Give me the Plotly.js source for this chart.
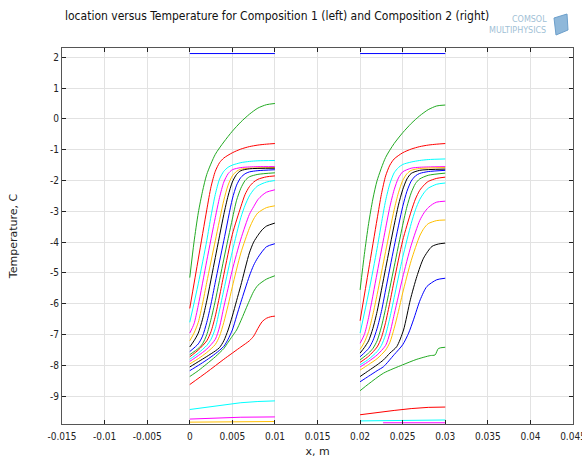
<!DOCTYPE html>
<html>
<head>
<meta charset="utf-8">
<script src="https://cdn.plot.ly/plotly-3.0.1.min.js"></script>
<style>html,body{margin:0;padding:0;background:#fff;}#chart{width:582px;height:458px;}</style>
</head>
<body>
<div id="chart"></div>
<script>
// Colour cycle (COMSOL default order)
const seriesColors = ['#0000ff', '#22aa22', '#ff0000', '#00ffff', '#ff00ff', '#ffbf00', '#000000'];

// Composition 1 (left), x in m, temperature in C
const leftX = [
  [0, 0.01],
  [0,0.0005,0.001,0.0015,0.002,0.003,0.004,0.005,0.006,0.007,0.008,0.009,0.01],
  [0,0.001,0.002,0.0025,0.003,0.0035,0.004,0.005,0.006,0.007,0.008,0.009,0.01],
  [0,0.001,0.002,0.0025,0.003,0.0035,0.004,0.0045,0.005,0.006,0.007,0.008,0.01],
  [0,0.0005,0.001,0.002,0.003,0.0035,0.004,0.0045,0.005,0.006,0.007,0.008,0.01],
  [0,0.0005,0.001,0.0015,0.002,0.003,0.004,0.0045,0.005,0.0055,0.006,0.007,0.01],
  [0,0.0005,0.001,0.0015,0.002,0.003,0.004,0.0045,0.005,0.0055,0.006,0.007,0.01],
  [0,0.001,0.0015,0.002,0.0025,0.003,0.004,0.005,0.0055,0.006,0.0065,0.007,0.008,0.01],
  [0,0.001,0.0015,0.002,0.0025,0.003,0.004,0.005,0.0055,0.006,0.0065,0.007,0.008,0.01],
  [0,0.001,0.002,0.0025,0.003,0.0035,0.004,0.005,0.006,0.0065,0.007,0.0075,0.008,0.009,0.01],
  [0,0.001,0.002,0.0025,0.003,0.0035,0.004,0.005,0.006,0.0065,0.007,0.0075,0.008,0.009,0.01],
  [0,0.001,0.002,0.003,0.0035,0.004,0.0045,0.005,0.006,0.007,0.0075,0.008,0.0085,0.009,0.01],
  [0,0.001,0.002,0.003,0.0035,0.004,0.0045,0.005,0.006,0.007,0.0075,0.008,0.009,0.01],
  [0,0.001,0.002,0.003,0.0035,0.004,0.0045,0.005,0.0055,0.006,0.007,0.0075,0.008,0.0085,0.009,0.01],
  [0,0.001,0.002,0.003,0.004,0.0045,0.005,0.0055,0.006,0.007,0.0075,0.008,0.009,0.01],
  [0,0.001,0.002,0.003,0.004,0.0045,0.005,0.0055,0.006,0.007,0.0075,0.008,0.009,0.01],
  [0,0.002,0.004,0.006,0.007,0.0075,0.008,0.0085,0.009,0.0095,0.01],
  [0,0.002,0.004,0.006,0.008,0.01],
  [0,0.003,0.006,0.01],
  [0,0.005,0.0051,0.01]
];
const leftT = [
  [2.12, 2.12],
  [-5.15,-4.0,-3.05,-2.35,-1.8,-1.15,-0.75,-0.4,-0.1,0.15,0.35,0.46,0.5],
  [-6.15,-4.55,-2.95,-2.2,-1.7,-1.42,-1.27,-1.1,-0.98,-0.9,-0.85,-0.82,-0.8],
  [-6.6,-5.35,-3.95,-3.15,-2.45,-1.95,-1.7,-1.57,-1.5,-1.42,-1.38,-1.36,-1.35],
  [-6.95,-6.65,-6.05,-4.6,-3.2,-2.55,-2.05,-1.78,-1.65,-1.58,-1.56,-1.55,-1.55],
  [-7.2,-6.95,-6.6,-6.0,-5.3,-3.95,-2.64,-2.15,-1.85,-1.7,-1.63,-1.6,-1.58],
  [-7.4,-7.2,-6.95,-6.5,-5.9,-4.5,-3.1,-2.5,-2.05,-1.8,-1.68,-1.62,-1.6],
  [-7.55,-7.3,-7.05,-6.6,-6.0,-5.3,-3.95,-2.6,-2.15,-1.9,-1.78,-1.72,-1.68,-1.65],
  [-7.65,-7.45,-7.3,-7.0,-6.5,-5.9,-4.55,-3.25,-2.64,-2.25,-2.0,-1.88,-1.8,-1.75],
  [-7.72,-7.5,-7.2,-6.9,-6.4,-5.75,-5.05,-3.75,-2.85,-2.45,-2.2,-2.05,-1.96,-1.88,-1.85],
  [-7.8,-7.6,-7.35,-7.15,-6.8,-6.2,-5.55,-4.3,-3.2,-2.8,-2.5,-2.3,-2.17,-2.05,-2.0],
  [-7.87,-7.68,-7.47,-7.15,-6.75,-6.1,-5.5,-4.9,-3.9,-3.1,-2.85,-2.62,-2.48,-2.38,-2.3],
  [-7.95,-7.78,-7.58,-7.32,-7.05,-6.6,-6.05,-5.45,-4.35,-3.55,-3.25,-3.05,-2.88,-2.82],
  [-8.05,-7.88,-7.71,-7.53,-7.42,-7.2,-6.85,-6.4,-5.9,-5.4,-4.35,-4.0,-3.78,-3.6,-3.48,-3.38],
  [-8.17,-8.0,-7.82,-7.62,-7.38,-7.15,-6.85,-6.4,-5.95,-5.1,-4.75,-4.5,-4.15,-4.05],
  [-8.36,-8.17,-7.95,-7.72,-7.45,-7.25,-7.05,-6.85,-6.55,-5.9,-5.6,-5.4,-5.2,-5.09],
  [-8.62,-8.22,-7.8,-7.4,-7.2,-7.05,-6.8,-6.58,-6.47,-6.42,-6.4],
  [-9.43,-9.35,-9.27,-9.21,-9.17,-9.15],
  [-9.74,-9.71,-9.68,-9.67],
  [-9.84,-9.84,-9.82,-9.82]
];

// Composition 2 (right)
const rightX = [
  [0.02, 0.03],
  [0.02,0.0205,0.021,0.0215,0.022,0.023,0.024,0.025,0.026,0.027,0.028,0.029,0.03],
  [0.02,0.021,0.022,0.0225,0.023,0.0235,0.024,0.025,0.026,0.027,0.028,0.029,0.03],
  [0.02,0.021,0.022,0.0225,0.023,0.0235,0.024,0.0245,0.025,0.026,0.027,0.028,0.03],
  [0.02,0.0205,0.021,0.022,0.023,0.0235,0.024,0.0245,0.025,0.026,0.027,0.028,0.03],
  [0.02,0.0205,0.021,0.0215,0.022,0.023,0.024,0.0245,0.025,0.0255,0.026,0.027,0.03],
  [0.02,0.0205,0.021,0.0215,0.022,0.023,0.024,0.0245,0.025,0.0255,0.026,0.027,0.03],
  [0.02,0.021,0.0215,0.022,0.0225,0.023,0.024,0.025,0.0255,0.026,0.0265,0.027,0.028,0.03],
  [0.02,0.021,0.0215,0.022,0.0225,0.023,0.024,0.025,0.0255,0.026,0.0265,0.027,0.028,0.03],
  [0.02,0.021,0.022,0.0225,0.023,0.0235,0.024,0.025,0.026,0.0265,0.027,0.0275,0.028,0.029,0.03],
  [0.02,0.021,0.022,0.0225,0.023,0.0235,0.024,0.025,0.026,0.0265,0.027,0.0275,0.028,0.029,0.03],
  [0.02,0.021,0.022,0.023,0.0235,0.024,0.0245,0.025,0.026,0.027,0.0275,0.028,0.0285,0.029,0.03],
  [0.02,0.021,0.022,0.023,0.0235,0.024,0.0245,0.025,0.026,0.027,0.0275,0.028,0.029,0.03],
  [0.02,0.021,0.022,0.02275,0.0235,0.0243,0.0251,0.0259,0.02667,0.02745,0.02843,0.0292,0.03],
  [0.02,0.021,0.022,0.02275,0.024,0.025,0.0257,0.02627,0.02706,0.02784,0.029,0.03],
  [0.02,0.021,0.02275,0.025,0.02667,0.02824,0.0288,0.0292,0.03],
  [0.02,0.022,0.024,0.026,0.028,0.03],
  [0.02,0.025,0.03],
  [0.0227,0.03]
];
const rightT = [
  [2.12, 2.12],
  [-5.55,-4.4,-3.4,-2.6,-2.0,-1.25,-0.8,-0.45,-0.15,0.1,0.3,0.42,0.45],
  [-6.55,-4.9,-3.25,-2.45,-1.85,-1.5,-1.3,-1.1,-0.98,-0.9,-0.85,-0.82,-0.8],
  [-6.95,-5.65,-4.2,-3.4,-2.65,-2.1,-1.75,-1.58,-1.48,-1.4,-1.35,-1.32,-1.3],
  [-7.28,-7.0,-6.45,-5.0,-3.55,-2.85,-2.3,-1.92,-1.72,-1.6,-1.57,-1.56,-1.55],
  [-7.48,-7.25,-6.9,-6.35,-5.7,-4.3,-2.95,-2.4,-2.0,-1.78,-1.67,-1.61,-1.58],
  [-7.6,-7.42,-7.2,-6.8,-6.25,-4.85,-3.45,-2.8,-2.3,-1.95,-1.77,-1.67,-1.63],
  [-7.72,-7.45,-7.2,-6.8,-6.25,-5.55,-4.15,-2.85,-2.35,-2.02,-1.85,-1.77,-1.71,-1.67],
  [-7.82,-7.6,-7.45,-7.2,-6.75,-6.15,-4.8,-3.45,-2.85,-2.4,-2.1,-1.95,-1.83,-1.76],
  [-7.9,-7.7,-7.4,-7.1,-6.6,-5.95,-5.25,-3.95,-3.0,-2.6,-2.32,-2.15,-2.03,-1.93,-1.89],
  [-7.98,-7.8,-7.55,-7.35,-7.0,-6.45,-5.8,-4.5,-3.4,-2.95,-2.62,-2.4,-2.25,-2.12,-2.08],
  [-8.05,-7.87,-7.66,-7.35,-6.95,-6.35,-5.75,-5.15,-4.1,-3.3,-3.05,-2.88,-2.77,-2.7,-2.67],
  [-8.15,-7.97,-7.78,-7.5,-7.25,-6.8,-6.25,-5.65,-4.6,-3.8,-3.55,-3.4,-3.3,-3.28],
  [-8.36,-8.17,-7.98,-7.82,-7.6,-7.39,-6.85,-5.87,-5.11,-4.52,-4.14,-4.06,-4.03],
  [-8.53,-8.35,-8.17,-8.04,-7.65,-7.33,-6.95,-6.52,-5.87,-5.44,-5.22,-5.17],
  [-8.82,-8.6,-8.25,-7.98,-7.8,-7.68,-7.66,-7.45,-7.41],
  [-9.6,-9.52,-9.46,-9.4,-9.36,-9.35],
  [-9.8,-9.78,-9.77],
  [-9.86,-9.86]
];

const xTickVals = [-0.015,-0.01,-0.005,0,0.005,0.01,0.015,0.02,0.025,0.03,0.035,0.04,0.045];
const xTickText = ['-0.015','-0.01','-0.005','0','0.005','0.01','0.015','0.02','0.025','0.03','0.035','0.04','0.045'];
const yTickVals = [2,1,0,-1,-2,-3,-4,-5,-6,-7,-8,-9];
const yTickText = ['2','1','0','-1','-2','-3','-4','-5','-6','-7','-8','-9'];

const traces = [];
function addGroup(xs, ts) {
  xs.forEach((x, i) => {
    traces.push({
      x: x, y: ts[i], type: 'scatter', mode: 'lines', hoverinfo: 'skip', showlegend: false,
      line: {color: seriesColors[i % seriesColors.length], width: 1,
             shape: (x.length > 6 && i < 17) ? 'spline' : 'linear', smoothing: 0.7}
    });
  });
}
addGroup(leftX, leftT);
addGroup(rightX, rightT);

const tickFont = {family: 'DejaVu Sans Condensed, DejaVu Sans', size: 10, color: '#222'};
const axisCommon = {
  showgrid: true, gridcolor: '#e2e2e2', gridwidth: 1, zeroline: false,
  showline: true, linecolor: '#555', linewidth: 1, mirror: 'ticks',
  ticks: 'inside', ticklen: 4, tickcolor: '#222', tickwidth: 1,
  tickmode: 'array', tickfont: tickFont, ticklabeloverflow: 'allow'
};

const layout = {
  width: 582, height: 458,
  margin: {l: 62, r: 9, t: 48, b: 34},
  paper_bgcolor: '#ffffff', plot_bgcolor: '#ffffff',
  showlegend: false,
  title: {
    text: 'location versus Temperature for Composition 1 (left) and Composition 2 (right)',
    font: {family: 'Liberation Sans Narrow, DejaVu Sans Condensed', size: 12, color: '#111'},
    x: 65/582, xref: 'container', xanchor: 'left',
    y: 1 - 16/458, yref: 'container', yanchor: 'middle'
  },
  xaxis: Object.assign({}, axisCommon, {
    range: [-0.015, 0.045], tickvals: xTickVals, ticktext: xTickText, ticklabelstandoff: 3,
    title: {text: 'x, m', font: {family: 'DejaVu Sans', size: 11, color: '#222'}, standoff: 7}
  }),
  yaxis: Object.assign({}, axisCommon, {
    range: [-9.9, 2.3], tickvals: yTickVals, ticktext: yTickText,
    title: {text: 'Temperature, C', font: {family: 'DejaVu Sans', size: 11, color: '#222'}, standoff: 30}
  }),
  annotations: [
    {text: 'COMSOL', xref: 'paper', yref: 'paper', x: (529-62)/511, y: 1 + 28/376,
     showarrow: false, font: {family: 'DejaVu Sans', size: 8, color: '#9fbfd6'}, xanchor: 'center', yanchor: 'middle'},
    {text: 'MULTIPHYSICS', xref: 'paper', yref: 'paper', x: (517-62)/511, y: 1 + 17/376,
     showarrow: false, font: {family: 'DejaVu Sans', size: 8, color: '#9fbfd6'}, xanchor: 'center', yanchor: 'middle'}
  ],
  shapes: [
    {type: 'path', xref: 'paper', yref: 'paper',
     path: 'M ' + ((554-62)/511) + ' ' + (1+30/376) + ' L ' + ((567-62)/511) + ' ' + (1+34/376) +
           ' L ' + ((568-62)/511) + ' ' + (1+18/376) + ' L ' + ((556-62)/511) + ' ' + (1+13/376) + ' Z',
     fillcolor: '#8fb8da', line: {color: '#6c9fcb', width: 1}}
  ]
};

Plotly.newPlot('chart', traces, layout, {displayModeBar: false, staticPlot: true});
</script>
</body>
</html>
